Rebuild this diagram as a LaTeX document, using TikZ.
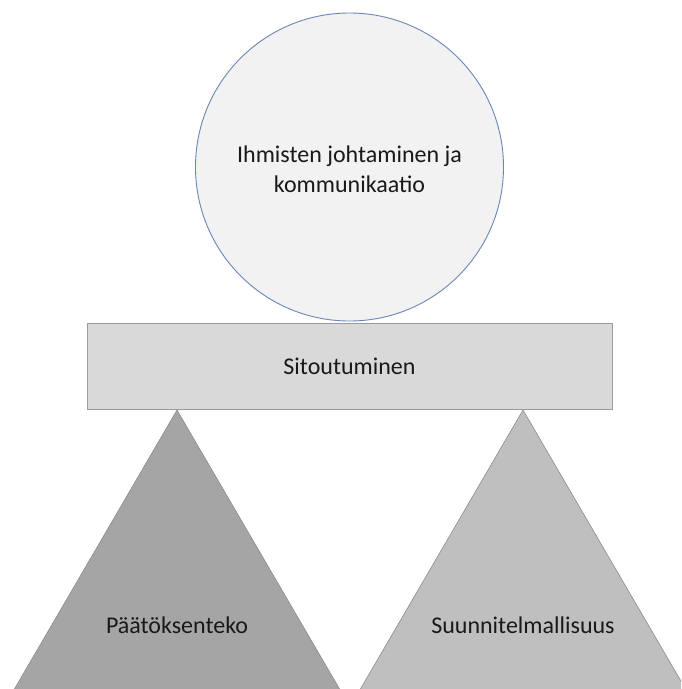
\documentclass[tikz,border=0pt]{standalone}
\usepackage{fontspec}
\setmainfont{Carlito}
\definecolor{circfill}{HTML}{F2F2F2}
\definecolor{circline}{HTML}{6A86B8}
\definecolor{barfill}{HTML}{D9D9D9}
\definecolor{barline}{HTML}{9A9A9A}
\definecolor{darktri}{HTML}{A5A5A5}
\definecolor{lighttri}{HTML}{BFBFBF}
\definecolor{triline}{HTML}{8C8C8C}
\tikzset{
  label text/.style={font=\fontsize{24}{30}\selectfont, text=black!90, align=center},
  topcircle/.style={circle, draw=circline, line width=0.9pt, fill=circfill, minimum size=308pt, inner sep=0pt},
  barbox/.style={rectangle, draw=barline, line width=0.9pt, fill=barfill, minimum width=525pt, minimum height=86pt, inner sep=0pt},
  tri/.style={draw=triline, line width=0.6pt}
}
\begin{document}
\begin{tikzpicture}[x=1pt, y=-1pt]
  \useasboundingbox (0,0) rectangle (681,689);
  \clip (0,0) rectangle (681,689);
  % Circle on top of the bar
  \node[topcircle] (circ) at (349.5,167) {};
  \node[label text] (circtext) at (349.5,169) {Ihmisten johtaminen ja\\kommunikaatio};
  % Horizontal bar
  \node[barbox] (bar) at (349.5,366) {};
  \node[label text] (bartext) at (349.5,366) {Sitoutuminen};
  % Two supporting triangles
  \coordinate (lapex) at (177,410);
  \coordinate (rapex) at (523,410);
  \path[tri, fill=darktri] (lapex) -- (8,700) -- (346,700) -- cycle;
  \path[tri, fill=lighttri] (rapex) -- (354,700) -- (692,700) -- cycle;
  \node[label text] (ltext) at (177,625) {Päätöksenteko};
  \node[label text] (rtext) at (523,625) {Suunnitelmallisuus};
\end{tikzpicture}
\end{document}
